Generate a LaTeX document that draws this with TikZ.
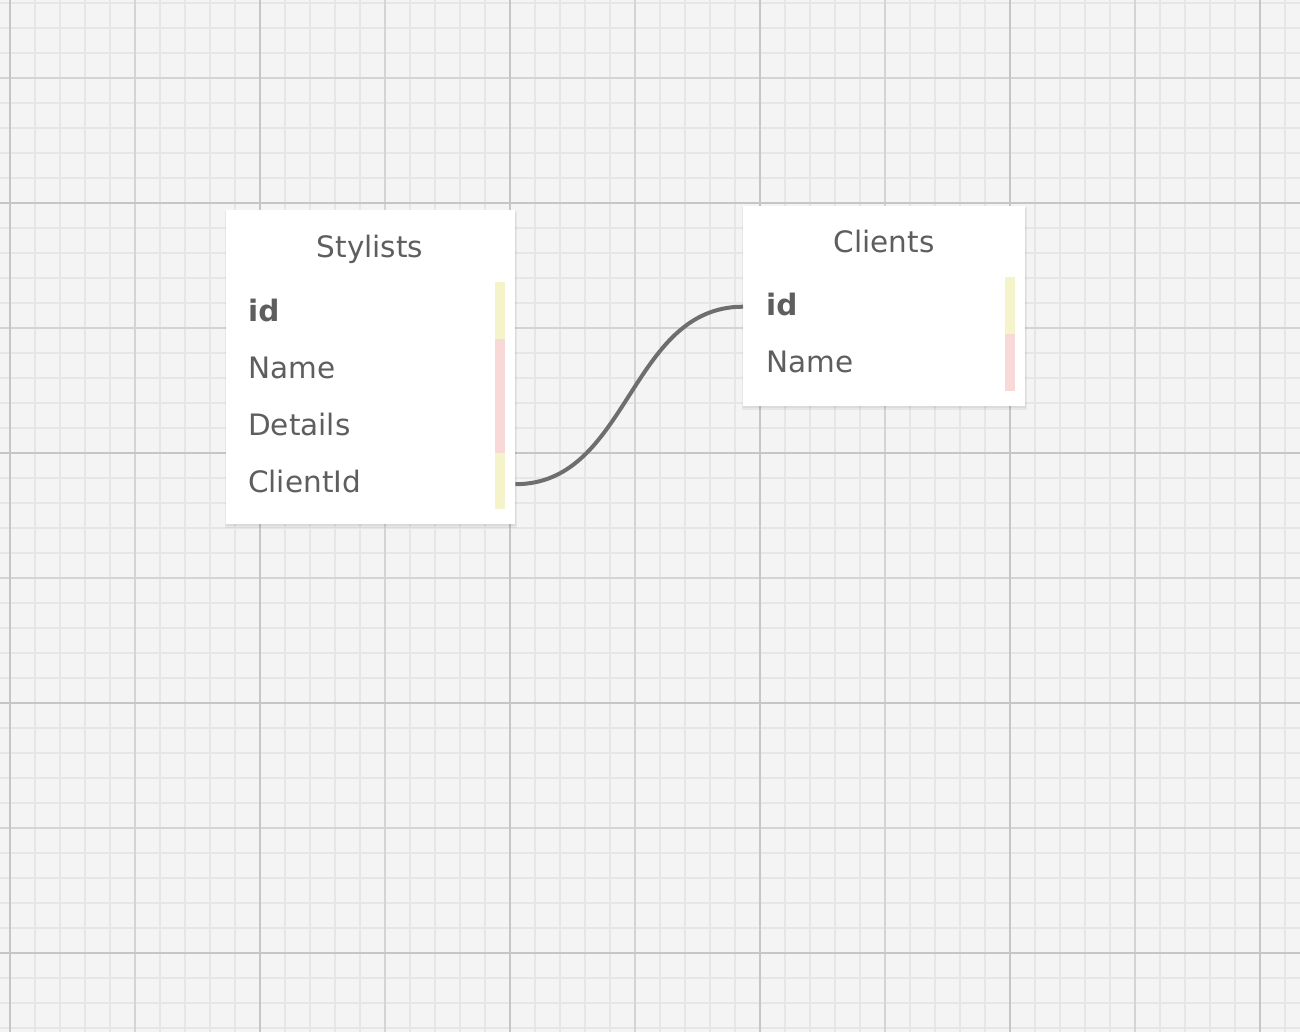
\documentclass[tikz,border=0pt]{standalone}
\usepackage{fontspec}
\setmainfont{DejaVu Sans}
\usetikzlibrary{calc}
\definecolor{bgc}{HTML}{F4F4F4}
\definecolor{gminor}{HTML}{E6E6E6}
\definecolor{gmed}{HTML}{D4D4D4}
\definecolor{gmajor}{HTML}{C6C6C6}
\definecolor{txt}{HTML}{5E5E5E}
\definecolor{conn}{HTML}{6E6E6E}
\definecolor{keyy}{HTML}{F5F3C9}
\definecolor{keyp}{HTML}{F9D9D8}
\begin{document}
\begin{tikzpicture}[x=1pt,y=-1pt,
  minorline/.style={line width=1.5pt, draw=gminor},
  medline/.style={line width=1.6pt, draw=gmed},
  majorline/.style={line width=1.8pt, draw=gmajor},
  tablebox/.style={rectangle, fill=white, draw=none, inner sep=0pt, anchor=north west},
  tabtitle/.style={font=\fontsize{29.5}{35}\selectfont, text=txt, inner sep=0pt, anchor=base},
  field/.style={font=\fontsize{29.5}{35}\selectfont, text=txt, inner sep=0pt, anchor=base west},
  keyfield/.style={field, font=\fontsize{29.5}{35}\selectfont\bfseries},
  bar/.style={rectangle, draw=none, inner sep=0pt, minimum width=10pt, anchor=north west},
  connector/.style={draw=conn, line width=4pt},
  shadowc/.style={fill=black, opacity=0.05}
]
\useasboundingbox (0,0) rectangle (1300,1032);
\fill[bgc] (0,0) rectangle (1300,1032);
% minor grid
\foreach \i in {0,...,51} \draw[minorline] ({10+25*\i},0) -- ({10+25*\i},1032);
\foreach \j in {0,...,41} \draw[minorline] (0,{3+25*\j}) -- (1300,{3+25*\j});
% medium grid
\foreach \x in {135,385,635,885,1135} \draw[medline] (\x,0) -- (\x,1032);
\foreach \y in {78,328,578,828} \draw[medline] (0,\y) -- (1300,\y);
% major grid
\foreach \x in {10,260,510,760,1010,1260} \draw[majorline] (\x,0) -- (\x,1032);
\foreach \y in {203,453,703,953} \draw[majorline] (0,\y) -- (1300,\y);

% shadows
\fill[shadowc] (225,211) rectangle (517,528);
\fill[shadowc] (226,212) rectangle (516,526);
\fill[shadowc] (742,207) rectangle (1027,410);
\fill[shadowc] (743,208) rectangle (1026,408);

% Stylists table
\node[tablebox, minimum width=289pt, minimum height=314pt] (stylists) at (226,210) {};
\node[tabtitle] (stitle) at (370,258) {Stylists};
\node[keyfield] (sid) at (248,321) {id};
\node[field] (sname) at (248,378) {Name};
\node[field] (sdetails) at (248,435) {Details};
\node[field] (sclientid) at (248,492) {ClientId};
\node[bar, fill=keyy, minimum height=57pt] (sbar1) at (495,282) {};
\node[bar, fill=keyp, minimum height=114pt] (sbar2) at (495,339) {};
\node[bar, fill=keyy, minimum height=56pt] (sbar3) at (495,453) {};

% Clients table
\node[tablebox, minimum width=282pt, minimum height=200pt] (clients) at (743,206) {};
\node[tabtitle] (ctitle) at (884,253) {Clients};
\node[keyfield] (cid) at (766,315) {id};
\node[field] (cname) at (766,372) {Name};
\node[bar, fill=keyy, minimum height=57pt] (cbar1) at (1005,277) {};
\node[bar, fill=keyp, minimum height=57pt] (cbar2) at (1005,334) {};

% connector
\coordinate (pa) at ($(stylists.east |- sbar3)+(0,3)$);
\coordinate (pb) at ($(clients.west |- cbar1)+(0,1)$);
\draw[connector] (pa) .. controls +(114,0) and +(-114,0) .. (pb);
\end{tikzpicture}
\end{document}
